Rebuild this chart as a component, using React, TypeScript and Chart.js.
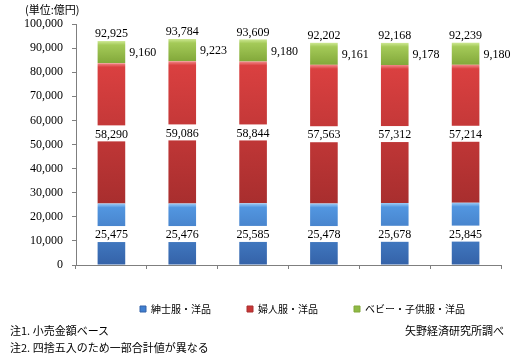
import React, { useEffect, useRef } from 'react';
import { Chart, registerables } from 'chart.js';

Chart.register(...registerables);

const years = ['2013年', '2014年', '2015年', '2016年', '2017年', '2018年'];
const menswear = [25475, 25476, 25585, 25478, 25678, 25845];
const womenswear = [58290, 59086, 58844, 57563, 57312, 57214];
const babywear = [9160, 9223, 9180, 9161, 9178, 9180];
const totals = [92925, 93784, 93609, 92202, 92168, 92239];
const seriesNames = ['紳士服・洋品', '婦人服・洋品', 'ベビー・子供服・洋品'];
const yMax = 100000;
const yStep = 10000;

const stacks = [menswear, womenswear, babywear];

const palettes = [
  { hi: '#9ccaf4', top: '#5296e0', bottom: '#3462a8', legend: '#3f7fd0' },
  { hi: '#f28a8a', top: '#da4040', bottom: '#a82e2e', legend: '#c83636' },
  { hi: '#cde892', top: '#a4ca58', bottom: '#82a83a', legend: '#8fba45' },
];

const fmt = (n: number) => String(n).replace(/\B(?=(\d{3})+(?!\d))/g, ',');

const serif = '"Liberation Serif", "Times New Roman", serif';
const gothic = '"Noto Sans CJK JP", sans-serif';

const makeFill = (d: number) => (ctx: any) => {
  const p = palettes[d];
  const chart = ctx.chart;
  const y = chart.scales && chart.scales.y;
  if (!y || ctx.type !== 'data') return p.legend;
  const i = ctx.dataIndex;
  let base = 0;
  for (let k = 0; k < d; k++) base += stacks[k][i];
  const v = stacks[d][i];
  const top = y.getPixelForValue(base + v);
  const bot = y.getPixelForValue(base);
  const h = bot - top;
  if (!(h > 0) || !isFinite(h)) return p.legend;
  const g = chart.ctx.createLinearGradient(0, top, 0, bot);
  const f = Math.min(0.4, 4 / h);
  g.addColorStop(0, p.hi);
  g.addColorStop(f, p.top);
  g.addColorStop(1, p.bottom);
  return g;
};

const labelPlugin = {
  id: 'valueLabels',
  afterDatasetsDraw(chart: any) {
    const ctx = chart.ctx;
    ctx.save();
    ctx.font = `12px ${serif}`;
    ctx.textBaseline = 'middle';
    [0, 1].forEach((d) => {
      chart.getDatasetMeta(d).data.forEach((bar: any, i: number) => {
        const { x, y, base } = bar.getProps(['x', 'y', 'base'], true);
        const cy = (y + base) / 2;
        const txt = fmt(stacks[d][i]);
        const w = ctx.measureText(txt).width;
        ctx.fillStyle = '#ffffff';
        ctx.fillRect(x - w / 2 - 2, cy - 8, w + 4, 16);
        ctx.fillStyle = '#000000';
        ctx.textAlign = 'center';
        ctx.fillText(txt, x, cy + 1);
      });
    });
    chart.getDatasetMeta(2).data.forEach((bar: any, i: number) => {
      const { x, y, base, width } = bar.getProps(['x', 'y', 'base', 'width'], true);
      ctx.fillStyle = '#000000';
      ctx.textAlign = 'left';
      ctx.textBaseline = 'middle';
      ctx.fillText(fmt(babywear[i]), x + width / 2 + 4, (y + base) / 2 + 1);
      ctx.textAlign = 'center';
      ctx.textBaseline = 'bottom';
      ctx.fillText(fmt(totals[i]), x, y - 1);
    });
    ctx.restore();
  },
};

export default function App() {
  const ref = useRef<HTMLCanvasElement | null>(null);

  useEffect(() => {
    if (!ref.current) return;
    const chart = new Chart(ref.current, {
      type: 'bar',
      data: {
        labels: years,
        datasets: stacks.map((s, d) => ({
          label: seriesNames[d],
          data: s,
          backgroundColor: makeFill(d),
          borderWidth: 0,
          barPercentage: 0.39,
          categoryPercentage: 1,
        })),
      },
      options: {
        animation: false,
        responsive: false,
        maintainAspectRatio: false,
        devicePixelRatio: 1,
        layout: { padding: { top: 24, right: 28, bottom: 40, left: 0 } },
        scales: {
          x: {
            stacked: true,
            offset: true,
            afterFit: (s: any) => {
              s.height = 3;
            },
            grid: {
              display: true,
              drawOnChartArea: false,
              offset: true,
              tickLength: 4,
              color: '#7f7f7f',
            },
            border: { color: '#7f7f7f' },
            ticks: {
              color: '#000',
              padding: 3,
              font: { size: 12, family: serif },
              maxRotation: 0,
            },
          },
          y: {
            stacked: true,
            min: 0,
            max: yMax,
            afterFit: (s: any) => {
              s.width = 76;
            },
            grid: {
              display: true,
              drawOnChartArea: false,
              tickLength: 4,
              color: '#7f7f7f',
            },
            border: { color: '#7f7f7f' },
            ticks: {
              stepSize: yStep,
              color: '#000',
              padding: 9,
              font: { size: 12, family: serif },
              callback: (v: any) => fmt(Number(v)),
            },
          },
        },
        plugins: {
          tooltip: { enabled: false },
          legend: {
            position: 'bottom',
            align: 'end',
            fullSize: false,
            labels: {
              boxWidth: 6,
              boxHeight: 6,
              padding: 36,
              color: '#000',
              font: { size: 10, family: gothic },
              generateLabels: () =>
                seriesNames.map((n, d) => ({
                  text: n,
                  fillStyle: palettes[d].legend,
                  strokeStyle: palettes[d].bottom,
                  lineWidth: 1,
                  hidden: false,
                  datasetIndex: d,
                })),
            },
          },
        },
      },
      plugins: [labelPlugin],
    } as any);
    return () => chart.destroy();
  }, []);

  const note: React.CSSProperties = {
    position: 'absolute',
    fontFamily: gothic,
    fontSize: 11,
    lineHeight: '16px',
    color: '#000',
    whiteSpace: 'nowrap',
  };

  return (
    <div style={{ position: 'absolute', left: 0, top: 0, width: 529, height: 364, background: '#fff' }}>
      <canvas ref={ref} width={529} height={364} style={{ position: 'absolute', left: 0, top: 0, width: 529, height: 364 }} />
      <div style={{ ...note, left: 25, top: 1 }}>(単位:億円)</div>
      <div style={{ ...note, left: 10, top: 322 }}>注1. 小売金額ベース</div>
      <div style={{ ...note, left: 10, top: 339 }}>注2. 四捨五入のため一部合計値が異なる</div>
      <div style={{ ...note, right: 25, top: 322 }}>矢野経済研究所調べ</div>
    </div>
  );
}
